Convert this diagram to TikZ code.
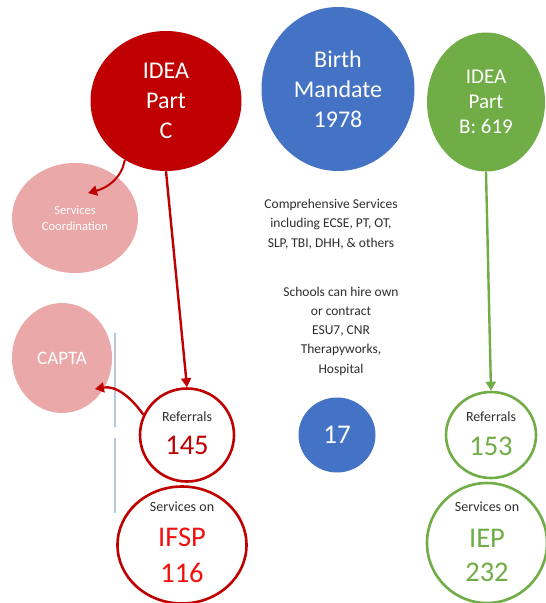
\documentclass[tikz,border=0pt]{standalone}
\usepackage{fontspec}
\setmainfont{Carlito}
\usetikzlibrary{shapes.geometric,arrows.meta}
\definecolor{dred}{HTML}{C00000}
\definecolor{bred}{HTML}{F01010}
\definecolor{mblue}{HTML}{4472C4}
\definecolor{mgreen}{HTML}{70AD47}
\definecolor{lpink}{HTML}{EAA8A8}
\definecolor{txt}{HTML}{2E2E2E}
\definecolor{sep}{HTML}{B4C7E7}
\tikzset{
  blob/.style={ellipse, inner sep=0pt, text=white, align=center},
  ring/.style={ellipse, inner sep=0pt, line width=2.6pt, fill=white},
  small/.style={inner sep=0pt, text=txt, font=\fontsize{14}{16}\selectfont},
  big/.style={inner sep=0pt, font=\fontsize{28.5}{34}\selectfont},
  conn/.style={line width=2.4pt, -{Triangle[length=9pt,width=10pt]}},
  note/.style={text=txt, align=center, font=\fontsize{13.5}{19.3}\selectfont},
}
\begin{document}
\begin{tikzpicture}[x=1pt,y=-1pt]
\useasboundingbox (0,0) rectangle (546,603);
\clip (0,0) rectangle (546,603);
\fill[white] (0,0) rectangle (546,603);

% top circles
\node[blob, fill=dred, minimum width=151pt, minimum height=140pt,
  font=\fontsize{24}{30}\selectfont] (c) at (166,101) {IDEA\\Part\\C};
\node[blob, fill=mblue, minimum width=153pt, minimum height=164pt,
  font=\fontsize{24}{30}\selectfont] (bm) at (338,89) {Birth\\Mandate\\1978};
\node[blob, fill=mgreen, minimum width=118pt, minimum height=139pt,
  font=\fontsize{21}{25}\selectfont] (b) at (486,102) {IDEA\\Part\\B: 619};

% left side
\node[blob, fill=lpink, minimum width=126pt, minimum height=110pt,
  font=\fontsize{12.5}{16}\selectfont] (sc) at (75,218) {Services\\Coordination};
\node[blob, fill=lpink, minimum width=100pt, minimum height=110pt,
  font=\fontsize{19}{22}\selectfont] (capta) at (62,358) {CAPTA};

\draw[sep, line width=1.2pt] (115,333) -- (115,427);
\draw[sep, line width=1.2pt] (115,438) -- (115,513);

% red column
\node[ring, draw=dred, minimum width=94pt, minimum height=93pt] (r1) at (187,435) {};
\node[small, yshift=18pt] (r1a) at (r1) {Referrals};
\node[big, text=dred, yshift=-10pt] (r1b) at (r1) {145};
\node[ring, draw=dred, minimum width=129pt, minimum height=117pt] (s1) at (182,545) {};
\node[small, yshift=38pt] (s1a) at (s1) {Services on};
\node[big, text=bred, yshift=8pt] (s1b) at (s1) {IFSP};
\node[big, text=bred, yshift=-28pt] (s1c) at (s1) {116};

% center
\node[note] (comp) at (331,224) {Comprehensive Services\\including ECSE, PT, OT,\\SLP, TBI, DHH, \& others};
\node[note] (sch) at (341,331) {Schools can hire own\\or contract\\ESU7, CNR\\Therapyworks,\\Hospital};
\node[blob, fill=mblue, minimum width=77pt, minimum height=75pt,
  font=\fontsize{27}{30}\selectfont] (n17) at (337,435) {17};

% green column
\node[ring, draw=mgreen, minimum width=90pt, minimum height=86pt] (r2) at (491,435) {};
\node[small, yshift=18pt] (r2a) at (r2) {Referrals};
\node[big, text=mgreen, yshift=-11pt] (r2b) at (r2) {153};
\node[ring, draw=mgreen, minimum width=120pt, minimum height=120pt] (s2) at (487,543) {};
\node[small, yshift=36pt] (s2a) at (s2) {Services on};
\node[big, text=mgreen, yshift=5pt] (s2b) at (s2) {IEP};
\node[big, text=mgreen, yshift=-29pt] (s2c) at (s2) {232};

% connectors
\coordinate (scend) at (88,193);
\coordinate (captaend) at (95,389);
\draw[conn, dred] (c.south) -- (r1.north);
\draw[conn, dred, line width=2pt] (c.235) to[out=-100,in=15] (scend);
\draw[conn, dred] (r1.155) to[out=125,in=10] (captaend);
\draw[conn, mgreen] (b.south) -- (r2.north);
\end{tikzpicture}
\end{document}
